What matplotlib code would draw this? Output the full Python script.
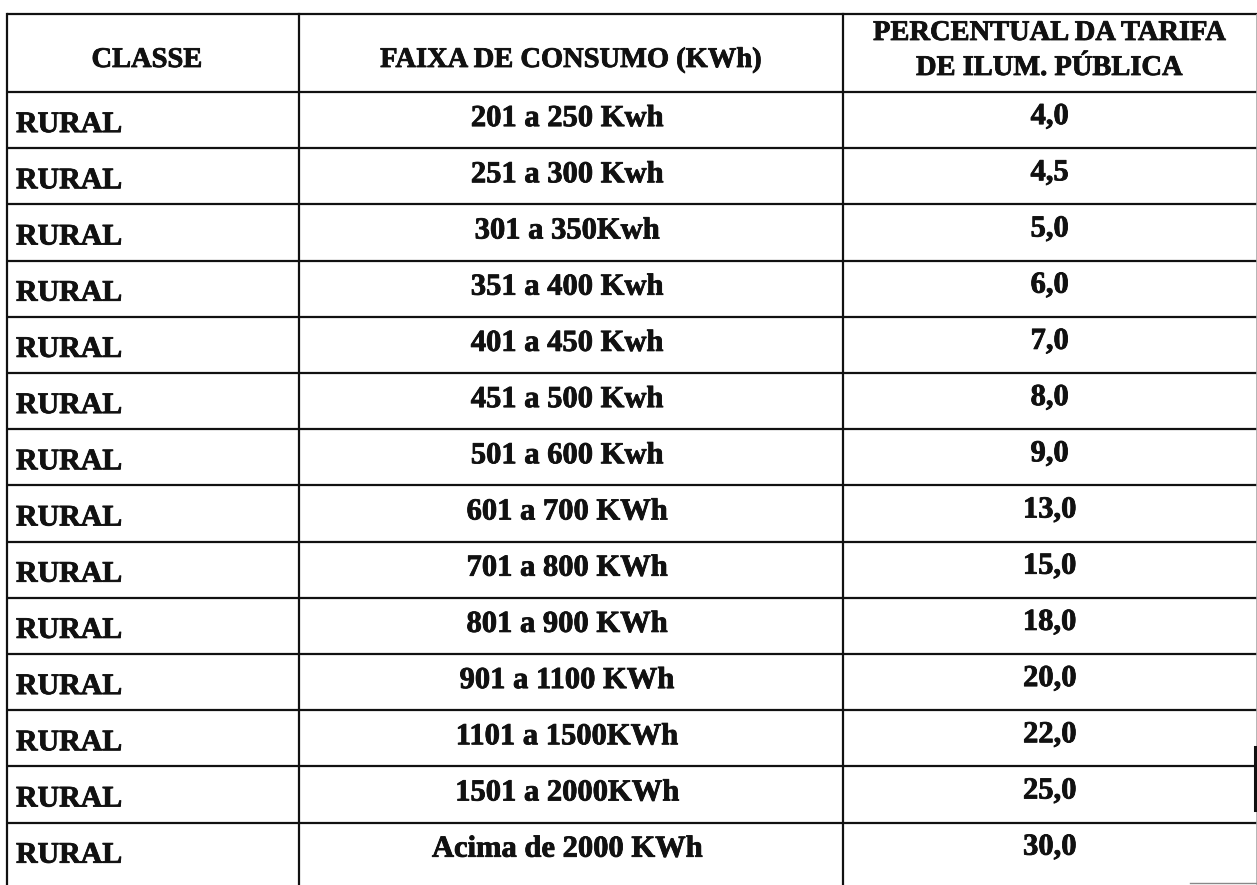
import matplotlib.pyplot as plt
import matplotlib.patheffects as pe

# dados da tabela
classes = ['RURAL'] * 14
faixas = ['201 a 250 Kwh', '251 a 300 Kwh', '301 a 350Kwh', '351 a 400 Kwh',
          '401 a 450 Kwh', '451 a 500 Kwh', '501 a 600 Kwh', '601 a 700 KWh',
          '701 a 800 KWh', '801 a 900 KWh', '901 a 1100 KWh', '1101 a 1500KWh',
          '1501 a 2000KWh', 'Acima de 2000 KWh']
percentuais = ['4,0', '4,5', '5,0', '6,0', '7,0', '8,0', '9,0',
               '13,0', '15,0', '18,0', '20,0', '22,0', '25,0', '30,0']
cabecalho = ['CLASSE', 'FAIXA DE CONSUMO (KWh)', 'PERCENTUAL DA TARIFA\nDE ILUM. PÚBLICA']

# geometria em pixels
W, H = 1257, 885
col_x = [7, 299, 843, 1256]
topo = 14
fim_cab = 92
alt_linha = 56.2

fig = plt.figure(figsize=(W / 100, H / 100), dpi=100)
ax = fig.add_axes([0, 0, 1, 1])
ax.set_xlim(0, W)
ax.set_ylim(H, 0)
ax.axis('off')

cor = '#111111'
negrito = [pe.withStroke(linewidth=0.6, foreground=cor)]
fonte = dict(family='Liberation Serif', weight='bold', color=cor, path_effects=negrito)

# linhas horizontais (sem linha de fechamento embaixo)
linhas_y = [topo, fim_cab] + [fim_cab + alt_linha * (i + 1) for i in range(len(faixas) - 1)]
for y in linhas_y:
    ax.plot([col_x[0], W], [y, y], color=cor, lw=1.6, solid_capstyle='butt')

# linhas verticais
for x in col_x[:3]:
    ax.plot([x, x], [topo, H], color=cor, lw=1.6)
ax.plot([col_x[3], col_x[3]], [topo, H], color='#aaaaaa', lw=0.6)
ax.plot([1255, 1255], [747, 810], color=cor, lw=2.2)
ax.plot([1190, W], [883, 883], color='#888888', lw=1.0)

# cabeçalho
ax.text((col_x[0] + col_x[1]) / 2 - 6, 67, cabecalho[0], ha='center', va='baseline', fontsize=20.5, **fonte)
ax.text((col_x[1] + col_x[2]) / 2, 67, cabecalho[1], ha='center', va='baseline', fontsize=20.5, **fonte)
l1, l2 = cabecalho[2].split('\n')
ax.text((col_x[2] + col_x[3]) / 2, 40, l1, ha='center', va='baseline', fontsize=20.5, **fonte)
ax.text((col_x[2] + col_x[3]) / 2, 75, l2, ha='center', va='baseline', fontsize=20.5, **fonte)

# corpo da tabela
for i in range(len(faixas)):
    cy = fim_cab + alt_linha * (i + 0.5)
    ax.text(16, cy + 12, classes[i], ha='left', va='baseline', fontsize=21.5, **fonte)
    ax.text((col_x[1] + col_x[2]) / 2 - 4, cy + 6, faixas[i], ha='center', va='baseline', fontsize=22, **fonte)
    ax.text((col_x[2] + col_x[3]) / 2, cy + 4, percentuais[i], ha='center', va='baseline', fontsize=22, **fonte)

fig.savefig('out.png', dpi=100, facecolor='white')
